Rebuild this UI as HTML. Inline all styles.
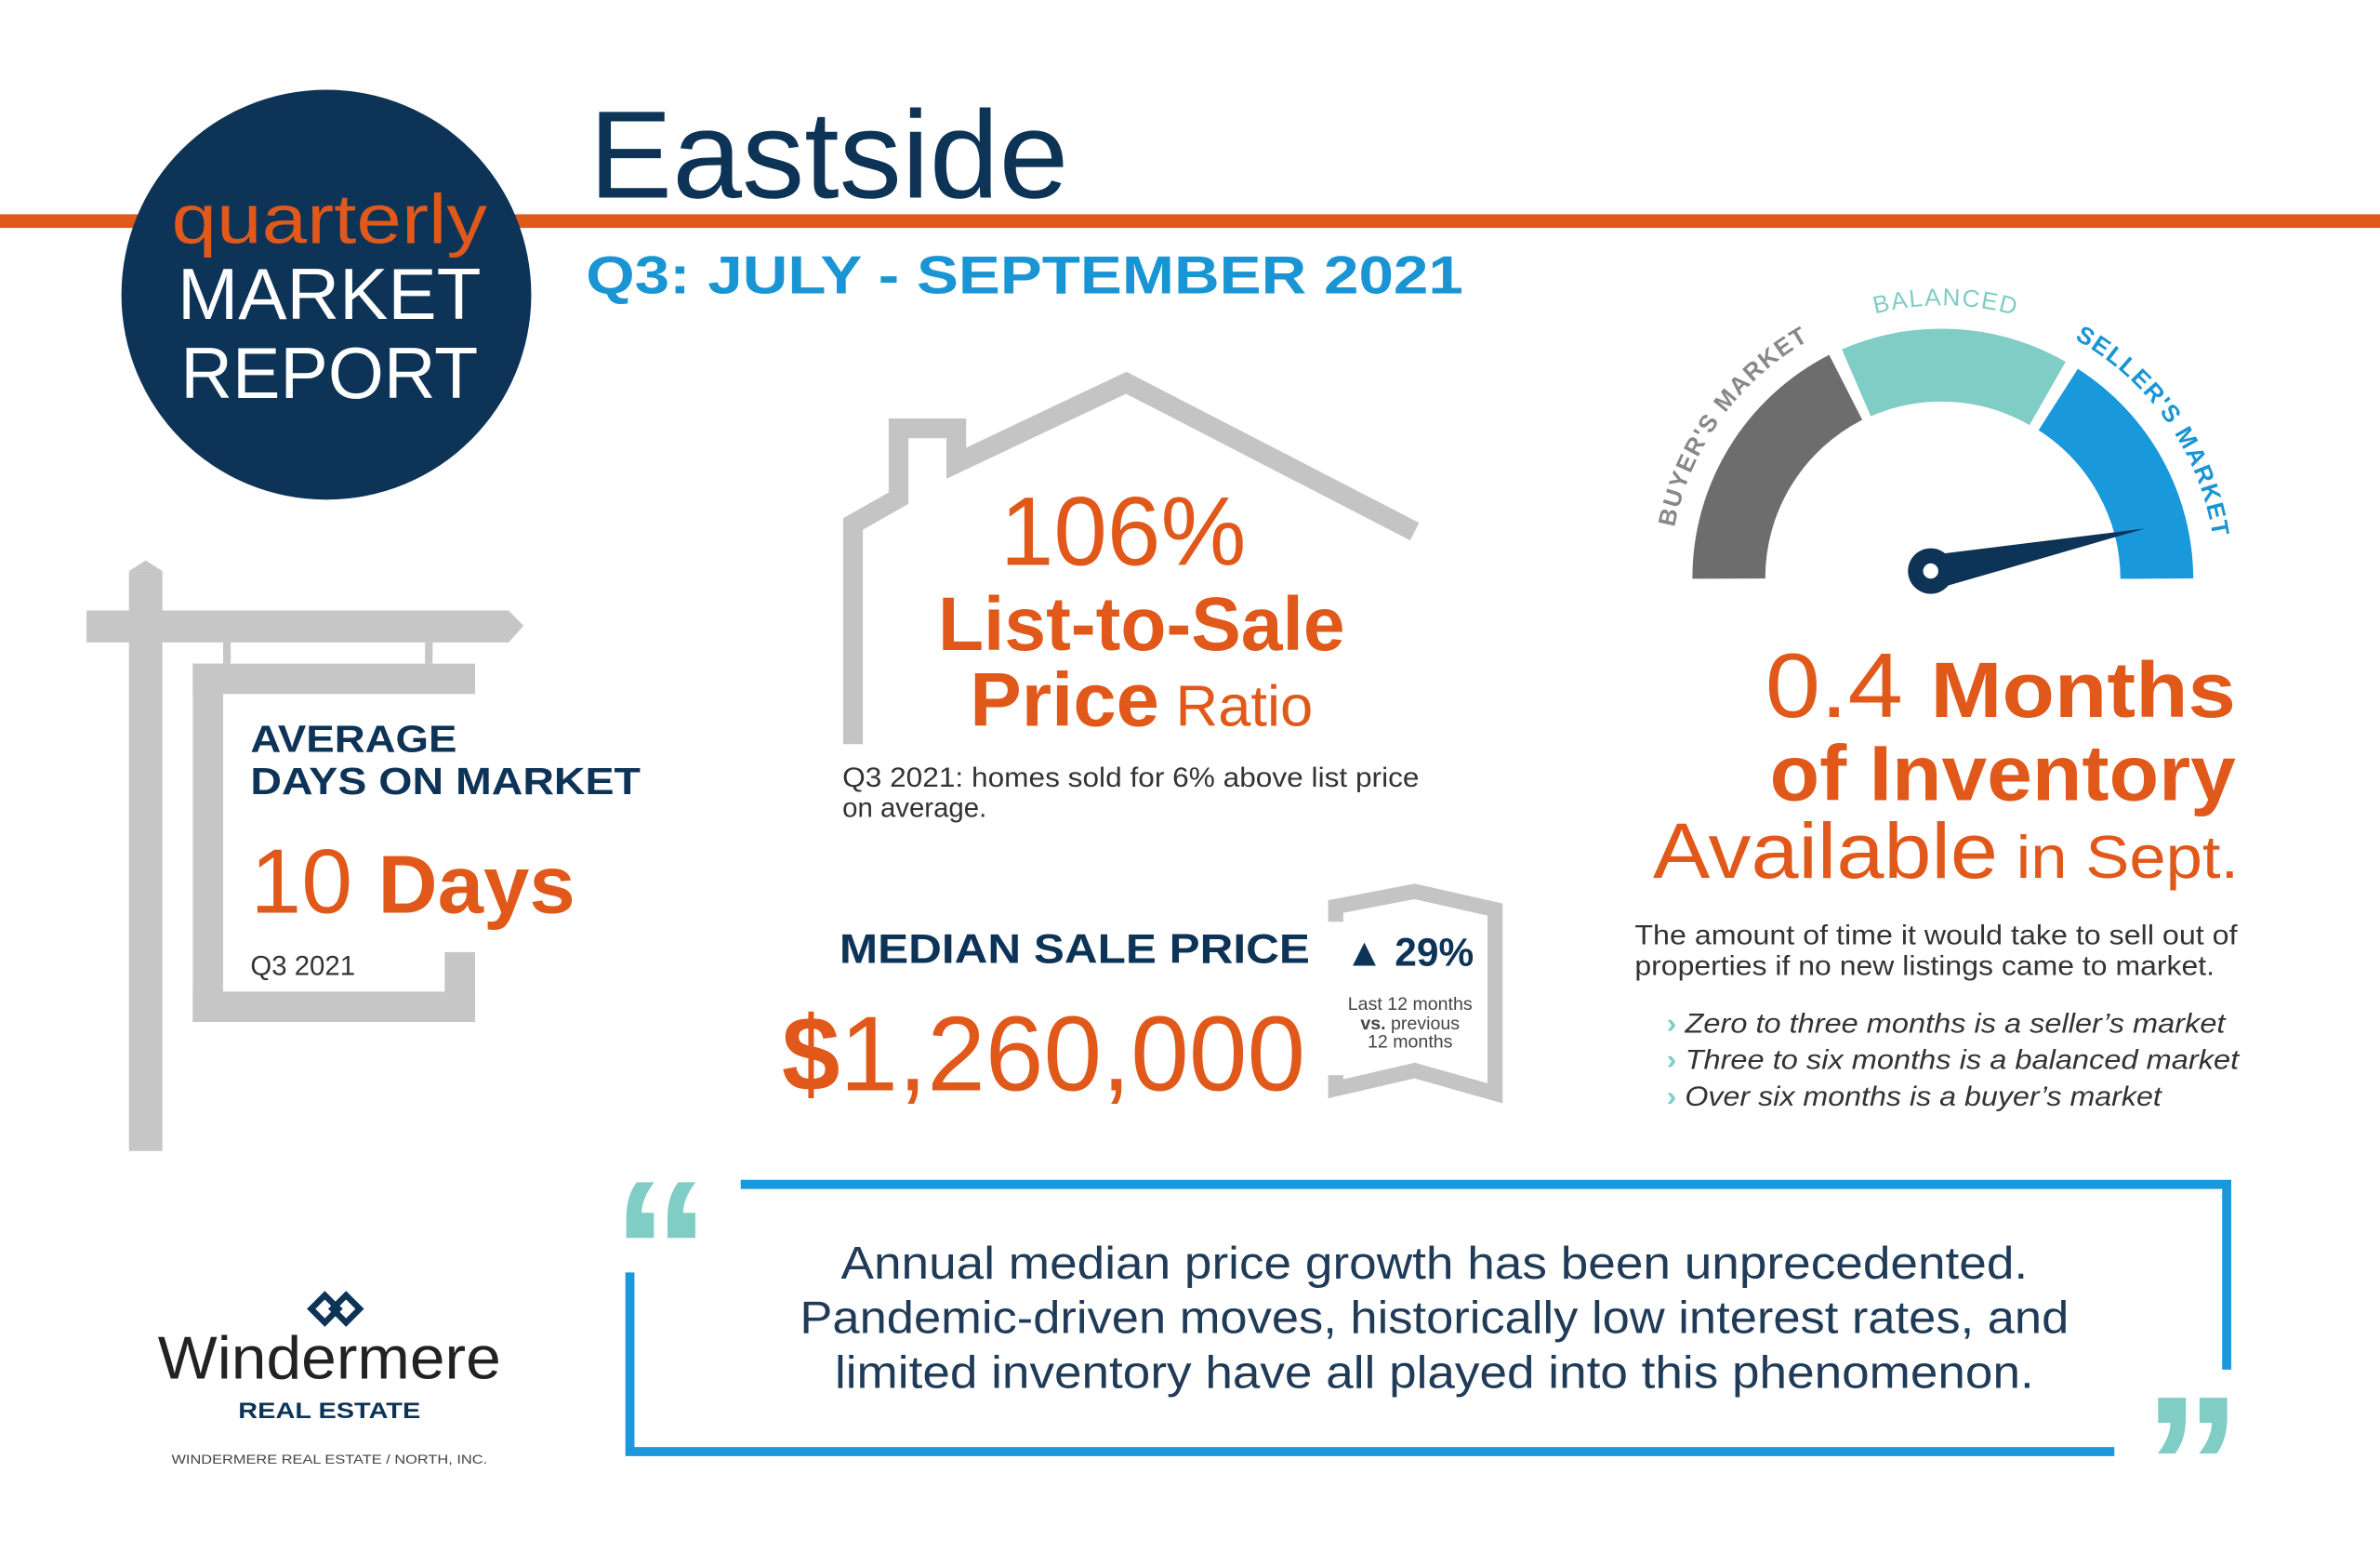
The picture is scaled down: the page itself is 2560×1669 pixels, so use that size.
<!DOCTYPE html>
<html><head><meta charset="utf-8"><style>
html,body{margin:0;padding:0;background:#fff}
svg{display:block}
text{font-family:"Liberation Sans","DejaVu Sans",sans-serif}
</style></head><body>
<svg width="2560" height="1669" viewBox="0 0 1568 1022" xmlns="http://www.w3.org/2000/svg">
<rect width="1568" height="1022" fill="#fff"/>
<rect x="0" y="141" width="1568" height="9" fill="#e0581a"/>
<circle cx="215" cy="194" r="135" fill="#0d3357"/>
<text x="217" y="160" text-anchor="middle" font-size="46" fill="#e0581a" textLength="208" lengthAdjust="spacingAndGlyphs">quarterly</text>
<text x="217" y="210" text-anchor="middle" font-size="48" fill="#fff" textLength="200" lengthAdjust="spacingAndGlyphs">MARKET</text>
<text x="217" y="262" text-anchor="middle" font-size="48" fill="#fff" textLength="196" lengthAdjust="spacingAndGlyphs">REPORT</text>
<text x="388" y="130" font-size="82" fill="#0d3357" textLength="316" lengthAdjust="spacingAndGlyphs">Eastside</text>
<text x="386" y="193" font-size="35" font-weight="bold" fill="#1a95d3" textLength="578" lengthAdjust="spacingAndGlyphs">Q3: JULY - SEPTEMBER 2021</text>

<g fill="#c6c6c6">
<rect x="85" y="376" width="22" height="382"/>
<polygon points="85,376 96,369 107,376"/>
<polygon points="57,402 335,402 345,412 335,423 57,423"/>
<rect x="147" y="423" width="5" height="14"/>
<rect x="280" y="423" width="5" height="14"/>
<rect x="127" y="437" width="186" height="20"/>
<rect x="127" y="437" width="20" height="236"/>
<rect x="127" y="653" width="186" height="20"/>
<rect x="293" y="627" width="20" height="46"/>
</g>
<text x="165" y="495" font-size="25" font-weight="bold" fill="#0d3357" textLength="136" lengthAdjust="spacingAndGlyphs">AVERAGE</text>
<text x="165" y="523" font-size="25" font-weight="bold" fill="#0d3357" textLength="257" lengthAdjust="spacingAndGlyphs">DAYS ON MARKET</text>
<text x="165" y="601" font-size="60" fill="#e0581a" textLength="214" lengthAdjust="spacingAndGlyphs">10 <tspan font-weight="bold" font-size="54">Days</tspan></text>
<text x="165" y="642" font-size="18" fill="#333">Q3 2021</text>

<polyline points="562,490 562,345 592,328 592,282 630,282 630,305 742,252 932,350" fill="none" stroke="#c4c4c4" stroke-width="13"/>
<text x="740" y="372" text-anchor="middle" font-size="64" fill="#e0581a" textLength="162" lengthAdjust="spacingAndGlyphs">106%</text>
<text x="752" y="428" text-anchor="middle" font-size="50" font-weight="bold" fill="#e0581a" textLength="268" lengthAdjust="spacingAndGlyphs">List-to-Sale</text>
<text x="752" y="478" text-anchor="middle" font-size="50" fill="#e0581a" textLength="226" lengthAdjust="spacingAndGlyphs"><tspan font-weight="bold">Price</tspan><tspan font-size="38"> Ratio</tspan></text>
<text x="555" y="518" font-size="18" fill="#333" textLength="380" lengthAdjust="spacingAndGlyphs">Q3 2021: homes sold for 6% above list price</text>
<text x="555" y="538" font-size="18" fill="#333">on average.</text>

<text x="553" y="634" font-size="27" font-weight="bold" fill="#0d3357" textLength="310" lengthAdjust="spacingAndGlyphs">MEDIAN SALE PRICE</text>
<text x="515" y="718" font-size="70" fill="#e0581a" textLength="345" lengthAdjust="spacingAndGlyphs"><tspan font-weight="bold">$</tspan>1,260,000</text>
<polyline points="880,607 880,597 932,587 985,599 985,720 932,705 880,717 880,708" fill="none" stroke="#c4c4c4" stroke-width="10"/>
<text x="886" y="636" font-size="26" font-weight="bold" fill="#0d3357">▲ 29%</text>
<text x="929" y="665" text-anchor="middle" font-size="12" fill="#444">Last 12 months</text>
<text x="929" y="678" text-anchor="middle" font-size="12" fill="#444"><tspan font-weight="bold">vs.</tspan> previous</text>
<text x="929" y="690" text-anchor="middle" font-size="12" fill="#444">12 months</text>

<g fill="none" stroke-width="48">
<path d="M1139,381 A141,141 0 0 1 1216,255" stroke="#6d6d6d"/>
<path d="M1223,252 A141,141 0 0 1 1349,259" stroke="#7fcdc4"/>
<path d="M1356,263 A141,141 0 0 1 1421,381" stroke="#1a98dc"/>
</g>
<defs><path id="arc" d="M1100,381 A180,180 0 0 1 1460,381"/></defs>
<text font-size="16" font-weight="bold" letter-spacing="1"><textPath href="#arc" startOffset="6%" fill="#888">BUYER'S MARKET</textPath></text>
<text font-size="16" letter-spacing="1"><textPath href="#arc" startOffset="42%" fill="#7fcdc4">BALANCED</textPath></text>
<text font-size="16" font-weight="bold" letter-spacing="1"><textPath href="#arc" startOffset="66%" fill="#1a95d3">SELLER'S MARKET</textPath></text>
<polygon points="1268,366 1413,348 1275,388" fill="#0d3357"/>
<circle cx="1272" cy="376" r="15" fill="#0d3357"/>
<circle cx="1272" cy="376" r="5" fill="#fff"/>

<text x="1473" y="472" text-anchor="end" font-size="60" fill="#e0581a" textLength="310" lengthAdjust="spacingAndGlyphs">0.4 <tspan font-weight="bold" font-size="52">Months</tspan></text>
<text x="1473" y="527" text-anchor="end" font-size="52" font-weight="bold" fill="#e0581a" textLength="307" lengthAdjust="spacingAndGlyphs">of Inventory</text>
<text x="1475" y="578" text-anchor="end" font-size="52" fill="#e0581a" textLength="386" lengthAdjust="spacingAndGlyphs">Available<tspan font-size="40"> in Sept.</tspan></text>
<text x="1077" y="622" font-size="18" fill="#333" textLength="397" lengthAdjust="spacingAndGlyphs">The amount of time it would take to sell out of</text>
<text x="1077" y="642" font-size="18" fill="#333" textLength="382" lengthAdjust="spacingAndGlyphs">properties if no new listings came to market.</text>
<g font-size="18" font-style="italic" fill="#333">
<text x="1098" y="680" textLength="368" lengthAdjust="spacingAndGlyphs"><tspan fill="#7fcdc4" font-weight="bold" font-style="normal">›</tspan> Zero to three months is a seller’s market</text>
<text x="1098" y="704" textLength="377" lengthAdjust="spacingAndGlyphs"><tspan fill="#7fcdc4" font-weight="bold" font-style="normal">›</tspan> Three to six months is a balanced market</text>
<text x="1098" y="728" textLength="326" lengthAdjust="spacingAndGlyphs"><tspan fill="#7fcdc4" font-weight="bold" font-style="normal">›</tspan> Over six months is a buyer’s market</text>
</g>

<g fill="none" stroke="#1a98dc" stroke-width="6">
<polyline points="488,780 1467,780 1467,902"/>
<polyline points="415,838 415,956 1393,956"/>
</g>
<text x="403" y="868" font-size="130" font-weight="bold" fill="#7fcdc4" font-family="DejaVu Sans">“</text>
<text x="1412" y="1010" font-size="130" font-weight="bold" fill="#7fcdc4" font-family="DejaVu Sans">”</text>
<g font-size="30" fill="#1f3b57" text-anchor="middle">
<text x="945" y="842" textLength="782" lengthAdjust="spacingAndGlyphs">Annual median price growth has been unprecedented.</text>
<text x="945" y="878" textLength="836" lengthAdjust="spacingAndGlyphs">Pandemic-driven moves, historically low interest rates, and</text>
<text x="945" y="914" textLength="790" lengthAdjust="spacingAndGlyphs">limited inventory have all played into this phenomenon.</text>
</g>

<g fill="none" stroke="#0d3357" stroke-width="4">
<polygon points="205,862 214,853 223,862 214,871"/>
<polygon points="219,862 228,853 237,862 228,871"/>
</g>
<text x="217" y="908" text-anchor="middle" font-size="40" fill="#222" textLength="226" lengthAdjust="spacingAndGlyphs">Windermere</text>
<text x="217" y="934" text-anchor="middle" font-size="15" font-weight="bold" fill="#0d3357" textLength="120" lengthAdjust="spacingAndGlyphs">REAL ESTATE</text>
<text x="217" y="964" text-anchor="middle" font-size="8.5" fill="#444" textLength="208" lengthAdjust="spacingAndGlyphs">WINDERMERE REAL ESTATE / NORTH, INC.</text>
</svg>
</body></html>
